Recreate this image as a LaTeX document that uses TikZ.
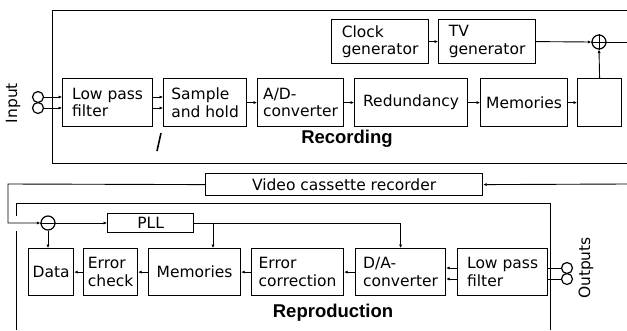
\documentclass[tikz,border=0pt]{standalone}
\usepackage{fontspec}
\setmainfont{DejaVu Sans}
\newfontfamily\headfont{Liberation Sans}
\usetikzlibrary{arrows.meta}
\begin{document}
\begin{tikzpicture}[x=1pt,y=-1pt,
  font=\fontsize{15.5}{17.5}\selectfont,
  line width=0.9pt,
  blk/.style={draw, line width=1.2pt, inner sep=0pt, align=left, anchor=north west},
  ar/.style={-{Latex[length=3.5pt,width=3.2pt]}},
  ring/.style={draw, circle, line width=1.2pt, inner sep=0pt, minimum size=#1},
  head/.style={font=\headfont\bfseries\fontsize{18.5}{20}\selectfont}]
\useasboundingbox (0,0) rectangle (627,330);
\fill[white] (0,0) rectangle (627,330);

% ---------- Recording ----------
\coordinate (fTR) at (627,10);
\coordinate (fBR) at (627,163);
\draw (fTR) -| (52,163) -- (fBR);

\node[blk, minimum width=90, minimum height=48] (lpf) at (62,78) {Low pass\\filter};
\node[blk, minimum width=83, minimum height=48] (sh) at (163,78) {Sample\\and hold};
\node[blk, minimum width=86, minimum height=48] (ad) at (257,78) {A/D-\\converter};
\node[blk, minimum width=113, minimum height=48] (red) at (354,78) {Redundancy};
\node[blk, minimum width=87, minimum height=48] (mem) at (480,78) {Memories};
\node[blk, minimum width=44, minimum height=48] (blank) at (577,78) {};
\node[blk, minimum width=97, minimum height=44] (clock) at (331,19) {Clock\\generator};
\node[blk, minimum width=97, minimum height=44] (tv) at (438,19) {TV\\generator};
\node[ring=14] (plus) at (599,42) {};
\draw (plus.north) -- (plus.south) (plus.west) -- (plus.east);

\node[rotate=90] (inp) at (13,103) {Input};
\node[ring=11] (i1) at (38,97) {};
\node[ring=11] (i2) at (38,108) {};
\draw[ar] (i1.east) -- (i1.east -| lpf.west);
\draw[ar] (i2.east) -- (i2.east -| lpf.west);
\draw[ar] (lpf.east |- i1) -- (sh.west |- i1);
\draw[ar] (lpf.east |- i2) -- (sh.west |- i2);
\draw[ar] (sh) -- (ad);
\draw[ar] (ad) -- (red);
\draw[ar] (red) -- (mem);
\draw[ar] (mem) -- (blank);
\draw[ar] (clock) -- (tv);
\draw[ar] (tv.east) -- (plus.west);
\draw[ar] (blank.north) -- (plus.south);
\coordinate (outR) at (627,42);
\draw (plus.east) -- (outR);
\coordinate (m1) at (157,151);
\coordinate (m2) at (161,133);
\draw[line width=1.6pt] (m1) -- (m2);
\node[head] (rec) at (347,139) {Recording};

% ---------- Reproduction ----------
\node[blk, minimum width=277, minimum height=22] (vcr) at (205,173) {Video cassette recorder};
\coordinate (vin) at (627,184);
\draw[ar] (vin) -- (vcr.east);
\coordinate (cL) at (8,184);
\node[ring=14] (minus) at (48,223) {};
\draw (minus.west) -- (minus.east);
\draw[ar] (vcr.west) -- (cL) |- (minus.west);

\draw (16,216) |- (550,203) -- (550,330);
\draw (16,231) -- (16,330);

\node[blk, minimum width=86, minimum height=19] (pll) at (107,213) {PLL};
\node[blk, minimum width=45, minimum height=47] (data) at (28,248) {Data};
\node[blk, minimum width=54, minimum height=47] (ec) at (83,248) {Error\\check};
\node[blk, minimum width=92, minimum height=47] (mem2) at (148,248) {Memories};
\node[blk, minimum width=92, minimum height=47] (ecorr) at (251,248) {Error\\correction};
\node[blk, minimum width=90, minimum height=47] (da) at (355,248) {D/A-\\converter};
\node[blk, minimum width=90, minimum height=47] (lpf2) at (457,248) {Low pass\\filter};

\draw[ar] (minus.east) -- (minus.east -| pll.west);
\draw[ar] (pll.east) -| (da.north);
\coordinate (br) at (213,222.5);
\draw[ar] (br) -- (br |- mem2.north);
\draw[ar] (minus.south) -- (minus.south |- data.north);

\draw[ar] (ec) -- (data);
\draw[ar] (mem2) -- (ec);
\draw[ar] (ecorr) -- (mem2);
\draw[ar] (da) -- (ecorr);

\node[ring=11] (o1) at (567,268) {};
\node[ring=11] (o2) at (567,279) {};
\draw[ar] (lpf2.west |- o1) -- (da.east |- o1);
\draw[ar] (lpf2.west |- o2) -- (da.east |- o2);
\draw (lpf2.east |- o1) -- (o1.west);
\draw (lpf2.east |- o2) -- (o2.west);
\node[rotate=90] (outp) at (586,268) {Outputs};
\node[head] (repro) at (333,313) {Reproduction};
\end{tikzpicture}
\end{document}
